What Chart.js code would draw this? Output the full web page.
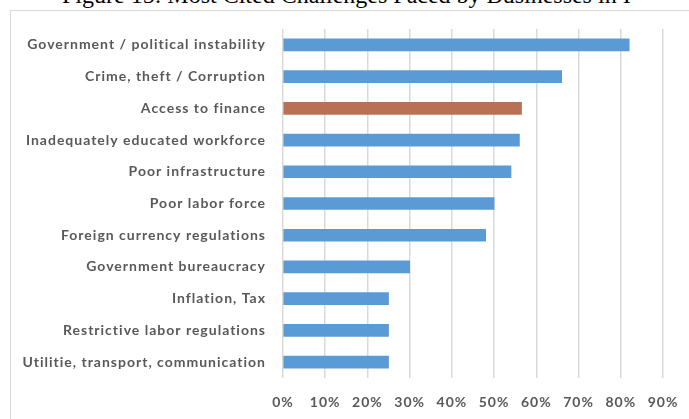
<!DOCTYPE html>
<html>
<head>
<meta charset="utf-8">
<script src="https://cdn.jsdelivr.net/npm/chart.js@4"></script>
<style>
  html, body { margin: 0; padding: 0; background: #fff; overflow: hidden; }
  #wrap { position: relative; width: 689px; height: 419px; overflow: hidden; }
  #title {
    position: absolute; left: 62px; top: -18px; white-space: nowrap;
    font-family: "Liberation Serif", "Times New Roman", serif; font-size: 24px; color: #000;
  }
  #frame {
    position: absolute; left: 10px; top: 10px; width: 900px; height: 600px;
    border: 1.5px solid #d9d9d9; box-sizing: border-box;
  }
  #chartBox { position: absolute; left: 0; top: 0; width: 689px; height: 419px; }
</style>
</head>
<body>
<div id="wrap">
  <div id="title">Figure 15: Most Cited Challenges Faced by Businesses in I</div>
  <div id="frame"></div>
  <div id="chartBox"><canvas id="challengesChart"></canvas></div>
</div>
<script>
const challenges = [
  'Government / political instability',
  'Crime, theft / Corruption',
  'Access to finance',
  'Inadequately educated workforce',
  'Poor infrastructure',
  'Poor labor force',
  'Foreign currency regulations',
  'Government bureaucracy',
  'Inflation, Tax',
  'Restrictive labor regulations',
  'Utilitie, transport, communication'
]
const shareCited = [82, 66, 56.5, 56, 54, 50, 48, 30, 25, 25, 25]
const xTicks = [0, 10, 20, 30, 40, 50, 60, 70, 80, 90]
const highlighted = 'Access to finance'

const labelFont = { family: 'Lato, Carlito, Calibri, sans-serif', size: 14, weight: 'bold' }

// the pdf text is spaced out a bit, canvas needs it set again after every resize
const spacing = {
  id: 'spacing',
  beforeLayout: chart => { chart.ctx.letterSpacing = '1px' },
  beforeDraw: chart => { chart.ctx.letterSpacing = '1px' }
}

window.onload = () => {
  var ctx = document.getElementById('challengesChart').getContext('2d')
  new Chart(ctx, {
    type: 'bar',
    data: {
      labels: challenges,
      datasets: [{
        data: shareCited,
        backgroundColor: challenges.map(c => c === highlighted ? '#b97055' : '#5b9bd5'),
        barThickness: 12
      }]
    },
    plugins: [spacing],
    options: {
      indexAxis: 'y',
      responsive: true,
      maintainAspectRatio: false,
      animation: false,
      layout: { padding: { top: 29, right: 26, bottom: 0, left: 0 } },
      plugins: { legend: { display: false }, tooltip: { enabled: false } },
      scales: {
        x: {
          min: 0, max: 90,
          afterBuildTicks: s => { s.ticks = xTicks.map(v => ({ value: v })) },
          afterFit: s => {
            s.height = 41
            s.paddingLeft = 0
            s.paddingRight = 0
          },
          grid: { color: '#d9d9d9', lineWidth: 1.5, drawTicks: false },
          border: { display: false },
          ticks: {
            padding: 16,
            color: '#595959',
            font: labelFont,
            maxRotation: 0,
            callback: v => v + '%'
          }
        },
        y: {
          afterFit: s => { s.width = 283 },
          grid: { display: false, drawTicks: false },
          border: { display: false },
          ticks: { padding: 17, color: '#595959', font: labelFont, autoSkip: false }
        }
      }
    }
  })
}
</script>
</body>
</html>
